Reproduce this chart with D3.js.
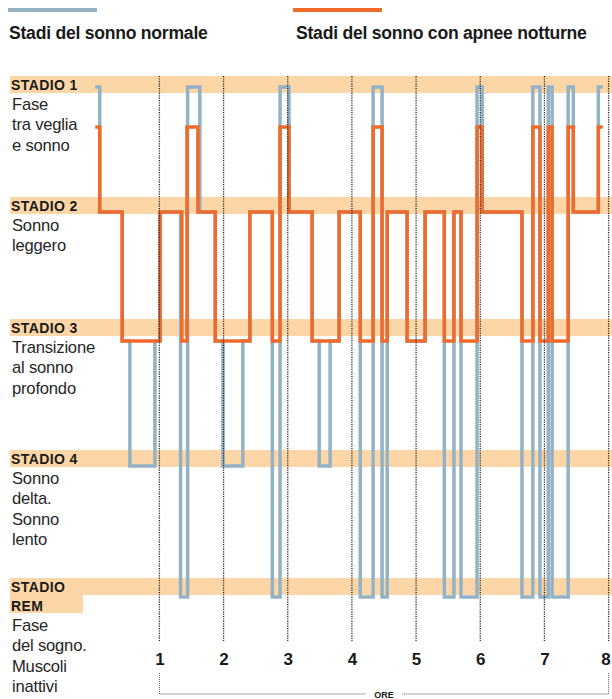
<!DOCTYPE html>
<html>
<head>
<meta charset="utf-8">
<script src="https://cdn.jsdelivr.net/npm/d3@7"></script>
<style>
  body { margin: 0; background: #fff; }
  text { font-family: "Liberation Sans", Arial, sans-serif; }
</style>
</head>
<body>
<div id="chart-area"></div>
<script>
// ore (asse x) e stadi del sonno (asse y)
const ore = [1, 2, 3, 4, 5, 6, 7, 8];
const stadi = ["1", "2", "3", "4", "REM"];
const titoli = [["STADIO 1"], ["STADIO 2"], ["STADIO 3"], ["STADIO 4"], ["STADIO", "REM"]];
const descrizioni = [
  ["Fase", "tra veglia", "e sonno"],
  ["Sonno", "leggero"],
  ["Transizione", "al sonno", "profondo"],
  ["Sonno", "delta.", "Sonno", "lento"],
  ["Fase", "del sogno.", "Muscoli", "inattivi"]
];
const legenda = ["Stadi del sonno normale", "Stadi del sonno con apnee notturne"];

// sonno normale: ora di inizio di ogni gradino e stadio
const normaleOre = [0, 0.07, 0.42, 0.54, 0.93, 1.01, 1.33, 1.44, 1.63, 1.87, 1.99, 2.30, 2.41,
  2.76, 2.88, 3.02, 3.38, 3.49, 3.66, 3.80, 4.13, 4.33, 4.47, 4.55, 4.86, 5.14, 5.44, 5.59,
  5.70, 5.95, 6.03, 6.65, 6.82, 6.93, 7.06, 7.12, 7.37, 7.45, 7.84, 7.91];
const normaleStadi = ["1", "2", "3", "4", "3", "2", "REM", "1", "2", "3", "4", "3", "2",
  "REM", "1", "2", "3", "4", "3", "2", "REM", "1", "REM", "2", "3", "2", "REM", "2",
  "REM", "1", "2", "REM", "1", "REM", "1", "REM", "1", "2", "1", "1"];

// sonno con apnee notturne
const apneaOre = [0, 0.07, 0.42, 1.01, 1.35, 1.43, 1.60, 1.87, 2.41, 2.76, 2.88, 3.02, 3.38,
  3.80, 4.13, 4.33, 4.47, 4.55, 4.86, 5.14, 5.44, 5.59, 5.70, 5.95, 6.03, 6.65, 6.82, 6.93,
  7.06, 7.12, 7.37, 7.45, 7.84, 7.91];
const apneaStadi = ["1", "2", "3", "2", "3", "1", "2", "3", "2", "3", "1", "2", "3",
  "2", "3", "1", "3", "2", "3", "2", "3", "2", "3", "1", "2", "3", "1", "3",
  "1", "3", "1", "2", "1", "1"];

const width = 612,
  height = 699;

const svg = d3.select("#chart-area")
  .append("svg")
  .attr("width", width)
  .attr("height", height);

const x = d3.scaleLinear()
  .domain([1, 8])
  .range([159.4, 608.6]);

const yBand = d3.scaleOrdinal(stadi, [76, 197, 319, 450, 578]);
const yNormale = d3.scaleOrdinal(stadi, [87, 212, 341, 466, 597]);
const yApnea = d3.scaleOrdinal(stadi, [127, 212, 341, 466, 597]);

const bandColor = "#fcd6a6",
  blue = "#94b2c6",
  orange = "#ef6a2b";

// fasce degli stadi
svg.selectAll("rect.band")
  .data(stadi)
  .enter()
  .append("rect")
  .attr("class", "band")
  .attr("x", 10)
  .attr("y", (d) => yBand(d))
  .attr("width", width - 10)
  .attr("height", 17)
  .attr("fill", bandColor);

svg.append("rect")
  .attr("x", 10)
  .attr("y", yBand("REM") + 17)
  .attr("width", 73)
  .attr("height", 18)
  .attr("fill", bandColor);

// titoli e descrizioni
stadi.forEach((s, i) => {
  titoli[i].forEach((t, j) => {
    svg.append("text")
      .attr("x", 11)
      .attr("y", yBand(s) + 13.5 + j * 19.5)
      .attr("font-family", "DejaVu Sans")
      .attr("font-weight", "bold")
      .attr("font-size", "14px")
      .attr("letter-spacing", "0.4px")
      .attr("fill", "#1a1a1a")
      .text(t);
  });
  const start = yBand(s) + 34 + (titoli[i].length - 1) * 19;
  descrizioni[i].forEach((t, j) => {
    svg.append("text")
      .attr("x", 12)
      .attr("y", start + j * 20.3)
      .attr("font-size", "16.6px")
      .attr("letter-spacing", "-0.2px")
      .attr("fill", "#262626")
      .text(t);
  });
});

// linee a gradini
const normale = normaleOre.map((t, i) => ({ t: t, s: normaleStadi[i] }));
const apnea = apneaOre.map((t, i) => ({ t: t, s: apneaStadi[i] }));

const lineNormale = d3.line()
  .x((d) => x(d.t))
  .y((d) => yNormale(d.s))
  .curve(d3.curveStepAfter);

const lineApnea = d3.line()
  .x((d) => x(d.t))
  .y((d) => yApnea(d.s))
  .curve(d3.curveStepAfter);

svg.append("path")
  .attr("d", lineNormale(normale))
  .attr("fill", "none")
  .attr("stroke", blue)
  .attr("stroke-width", 3.5);

svg.append("path")
  .attr("d", lineApnea(apnea))
  .attr("fill", "none")
  .attr("stroke", orange)
  .attr("stroke-width", 3.5);

// griglia oraria
svg.selectAll("line.grid")
  .data(ore)
  .enter()
  .append("line")
  .attr("class", "grid")
  .attr("x1", (d) => x(d))
  .attr("x2", (d) => x(d))
  .attr("y1", 76)
  .attr("y2", 641)
  .attr("stroke", "#2b2b2b")
  .attr("stroke-width", 1.3)
  .attr("stroke-dasharray", "1.2,1.2");

const xAxisCall = d3.axisBottom(x)
  .tickValues(ore)
  .tickSize(0)
  .tickPadding(0)
  .tickFormat(d3.format("d"));

const xAxis = svg.append("g")
  .attr("transform", "translate(0, 653)")
  .call(xAxisCall);
xAxis.select(".domain").remove();
xAxis.selectAll("text")
  .attr("font-family", "Liberation Sans")
  .attr("font-weight", "bold")
  .attr("font-size", "17px")
  .attr("fill", "#1a1a1a")
  .attr("dx", (d) => (d === 8 ? -3 : 0));

// parentesi ORE
svg.append("path")
  .attr("d", "M" + x(1) + ",673V694H" + x(8) + "V673")
  .attr("fill", "none")
  .attr("stroke", "#555")
  .attr("stroke-width", 1)
  .attr("stroke-dasharray", "1,1");

const midX = (x(1) + x(8)) / 2;
svg.append("rect")
  .attr("x", midX - 18)
  .attr("y", 688)
  .attr("width", 36)
  .attr("height", 11)
  .attr("fill", "#fff");

svg.append("text")
  .attr("x", midX)
  .attr("y", 698)
  .attr("text-anchor", "middle")
  .attr("font-weight", "bold")
  .attr("font-size", "9px")
  .attr("fill", "#1a1a1a")
  .text("ORE");

// legenda
const legendX = [8, 293];
[blue, orange].forEach((c, i) => {
  svg.append("line")
    .attr("x1", legendX[i])
    .attr("x2", legendX[i] + 89)
    .attr("y1", 10)
    .attr("y2", 10)
    .attr("stroke", c)
    .attr("stroke-width", 4);
  svg.append("text")
    .attr("x", legendX[i] + (i ? 3 : 1))
    .attr("y", 39)
    .attr("font-weight", "bold")
    .attr("font-size", "17.6px")
    .attr("letter-spacing", "-0.25px")
    .attr("fill", "#1a1a1a")
    .text(legenda[i]);
});
</script>
</body>
</html>
